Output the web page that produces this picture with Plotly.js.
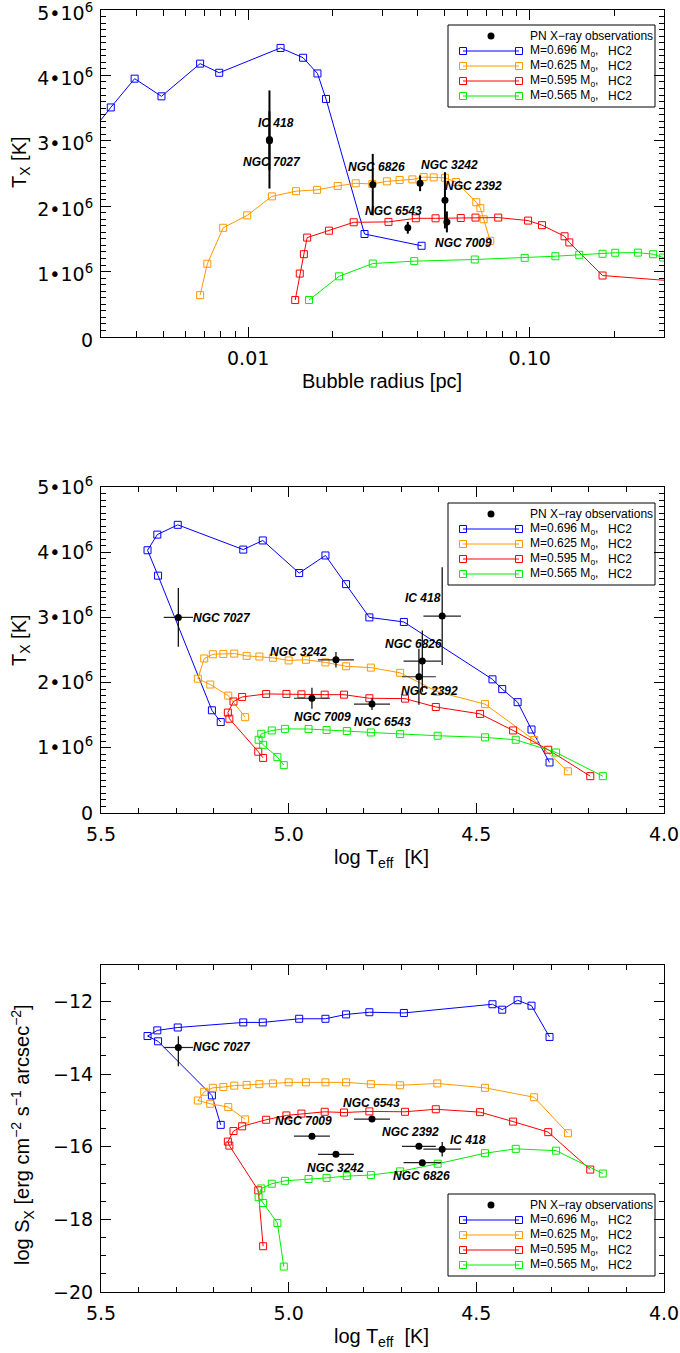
<!DOCTYPE html>
<html><head><meta charset="utf-8">
<script src="https://cdn.plot.ly/plotly-3.0.1.min.js"></script>
<style>body{margin:0;background:#fff}#chart{width:680px;height:1353px}</style>
</head><body><div id="chart"></div>
<script>
// ---------------- DATA ----------------
// Model sequences (time order). Tx in units of 10^6 K, radius in pc (null = outside the plotted range)
const m696_logTeff = [4.305, 4.353, 4.390, 4.431, 4.457, 4.693, 4.785, 4.847, 4.902, 4.972, 5.069, 5.121, 5.2955, 5.350, 5.376, 5.348, 5.2045, 5.181];
const m696_Tx      = [0.775, 1.28, 1.70, 1.90, 2.05, 2.93, 3.00, 3.51, 3.95, 3.68, 4.18, 4.04, 4.42, 4.27, 4.03, 3.64, 1.575, 1.395];
const m696_radius  = [null, null, null, null, null, null, 0.00262, 0.00325, 0.00395, 0.00492, 0.00675, 0.00789, 0.01303, 0.01567, 0.01762, 0.0189, 0.0259, 0.0413];
const m696_logSx   = [-12.98, -12.12, -11.97, -12.23, -12.08, -12.32, -12.30, -12.36, -12.48, -12.48, -12.58, -12.58, -12.72, -12.80, -12.955, -13.10, -14.59, -15.40];

const m625_logTeff = [4.256, 4.346, 4.477, 4.604, 4.703, 4.781, 4.847, 4.902, 4.954, 5.000, 5.042, 5.078, 5.112, 5.145, 5.174, 5.202, 5.225, 5.242, 5.209, 5.161, 5.116];
const m625_Tx      = [0.64, 1.12, 1.67, 1.86, 2.15, 2.23, 2.25, 2.31, 2.35, 2.34, 2.38, 2.40, 2.41, 2.445, 2.44, 2.435, 2.37, 2.06, 1.97, 1.80, 1.47];
const m625_radius  = [0.00675, 0.00716, 0.00815, 0.00992, 0.01214, 0.01479, 0.01757, 0.0208, 0.0241, 0.0276, 0.0311, 0.0345, 0.0383, 0.0420, 0.0456, 0.0500, 0.0548, 0.0646, 0.0668, 0.0686, 0.0724];
const m625_logSx   = [-15.63, -14.64, -14.38, -14.26, -14.31, -14.28, -14.23, -14.23, -14.23, -14.23, -14.26, -14.28, -14.30, -14.32, -14.36, -14.38, -14.49, -14.73, -14.82, -14.91, -15.25];

const m595_logTeff = [4.1965, 4.3085, 4.402, 4.490, 4.608, 4.690, 4.785, 4.8525, 4.904, 4.966, 5.006, 5.060, 5.124, 5.147, 5.162, 5.158, 5.081, 5.068];
const m595_Tx      = [0.565, 0.97, 1.266, 1.52, 1.626, 1.754, 1.76, 1.815, 1.815, 1.82, 1.826, 1.826, 1.78, 1.71, 1.54, 1.446, 0.94, 0.845];
const m595_radius  = [0.01469, 0.01525, 0.01577, 0.0162, 0.01936, 0.0237, 0.0315, 0.0394, 0.0463, 0.0569, 0.0642, 0.0773, 0.0987, 0.1106, 0.133, 0.1383, 0.1815, 0.35];
const m595_logSx   = [-16.63, -15.60, -15.31, -15.05, -14.97, -15.04, -15.03, -15.06, -15.04, -15.09, -15.14, -15.26, -15.44, -15.57, -15.86, -15.97, -17.20, -18.74];

const m565_logTeff = [4.163, 4.2875, 4.395, 4.477, 4.603, 4.703, 4.781, 4.845, 4.899, 4.947, 5.010, 5.045, 5.073, 5.080, 5.068, 5.030, 5.013];
const m565_Tx      = [0.565, 0.928, 1.123, 1.16, 1.185, 1.21, 1.235, 1.257, 1.272, 1.288, 1.29, 1.266, 1.215, 1.123, 1.046, 0.857, 0.734];
const m565_radius  = [0.01644, 0.02103, 0.0277, 0.0389, 0.0638, 0.0960, 0.1234, 0.150, 0.1815, 0.2014, 0.2422, 0.2746, 0.298, 0.33, null, null, null];
const m565_logSx   = [-16.74, -16.11, -16.06, -16.18, -16.47, -16.68, -16.78, -16.81, -16.86, -16.89, -16.94, -17.02, -17.15, -17.39, -17.55, -18.10, -19.30];

const modelMass   = ["0.696", "0.625", "0.595", "0.565"];
const modelColors = ["#0000ff", "#ff9900", "#ff0000", "#00f000"];

// Observations
const obsNames      = ["IC 418", "NGC 7027", "NGC 6826", "NGC 3242", "NGC 2392", "NGC 7009", "NGC 6543"];
const obsRadius     = [0.0119, 0.0119, 0.0277, 0.0408, 0.0500, 0.0508, 0.0369];
const obsTx         = [3.02, 3.00, 2.33, 2.35, 2.09, 1.76, 1.67];
const obsTxErr      = [0.75, 0.45, 0.47, 0.12, 0.43, 0.16, 0.09];
const obsLogTeff    = [4.591, 5.294, 4.644, 4.874, 4.653, 4.938, 4.778];
const obsLogTeffErr = [0.05, 0.039, 0.05, 0.048, 0.045, 0.048, 0.048];
const obsLogSx      = [-16.07, -13.27, -16.44, -16.21, -15.99, -15.71, -15.24];
const obsLogSxErrP  = [0.2, 0.31, 0, 0, 0, 0, 0];
const obsLogSxErrM  = [0.2, 0.52, 0, 0, 0, 0, 0];

// --------------- BUILD ---------------
const FONT = "Liberation Sans, Arial, Helvetica, sans-serif";
const WIDE = "DejaVu Sans, Verdana, sans-serif";
const MEGA = 1e6;
const models = [
  {logTeff: m696_logTeff, Tx: m696_Tx, radius: m696_radius, logSx: m696_logSx},
  {logTeff: m625_logTeff, Tx: m625_Tx, radius: m625_radius, logSx: m625_logSx},
  {logTeff: m595_logTeff, Tx: m595_Tx, radius: m595_radius, logSx: m595_logSx},
  {logTeff: m565_logTeff, Tx: m565_Tx, radius: m565_radius, logSx: m565_logSx}
];

const traces = [];
models.forEach((m, i) => {
  const style = {
    mode: "lines+markers", showlegend: false, hoverinfo: "skip",
    line: {color: modelColors[i], width: 1},
    marker: {symbol: "square-open", size: 7, color: modelColors[i], line: {width: 1, color: modelColors[i]}}
  };
  traces.push(Object.assign({x: m.radius, y: m.Tx.map(v => v * MEGA), xaxis: "x", yaxis: "y"}, style));
  traces.push(Object.assign({x: m.logTeff, y: m.Tx.map(v => v * MEGA), xaxis: "x2", yaxis: "y2"}, style));
  traces.push(Object.assign({x: m.logTeff, y: m.logSx, xaxis: "x3", yaxis: "y3"}, style));
});

const obsMarker = {symbol: "circle", size: 7, color: "#000"};
traces.push({
  x: obsRadius, y: obsTx.map(v => v * MEGA), xaxis: "x", yaxis: "y",
  mode: "markers", showlegend: false, marker: obsMarker,
  error_y: {type: "data", array: obsTxErr.map(v => v * MEGA), color: "#000", thickness: 2, width: 0}
});
traces.push({
  x: obsLogTeff, y: obsTx.map(v => v * MEGA), xaxis: "x2", yaxis: "y2",
  mode: "markers", showlegend: false, marker: obsMarker,
  error_x: {type: "data", array: obsLogTeffErr, color: "#222", thickness: 1.2, width: 0},
  error_y: {type: "data", array: obsTxErr.map(v => v * MEGA), color: "#000", thickness: 1.2, width: 0}
});
traces.push({
  x: obsLogTeff, y: obsLogSx, xaxis: "x3", yaxis: "y3",
  mode: "markers", showlegend: false, marker: obsMarker,
  error_x: {type: "data", array: obsLogTeffErr, color: "#222", thickness: 1.2, width: 0},
  error_y: {type: "data", symmetric: false, array: obsLogSxErrP, arrayminus: obsLogSxErrM, color: "#000", thickness: 1.2, width: 0}
});

// --------------- LAYOUT ---------------
const W = 680, H = 1353, ML = 101, MR = 16, MT = 10, MB = 61;
const pxX = px => (px - ML) / (W - ML - MR);
const pxY = py => (H - MB - py) / (H - MT - MB);

const baseAxis = {
  showline: true, linecolor: "#000", linewidth: 1, mirror: "ticks",
  ticks: "inside", ticklen: 10, tickwidth: 1, tickcolor: "#000",
  showgrid: false, zeroline: false, ticklabeloverflow: "allow",
  tickfont: {family: WIDE, size: 19, color: "#000"}
};
const txTickVals = [0, 1, 2, 3, 4, 5].map(v => v * MEGA);
const txTickText = ["0", "1•10<sup>6</sup>", "2•10<sup>6</sup>", "3•10<sup>6</sup>", "4•10<sup>6</sup>", "5•10<sup>6</sup>"];

const logMinor = [0.004, 0.005, 0.006, 0.007, 0.008, 0.009, 0.02, 0.03, 0.04, 0.05, 0.06, 0.07, 0.08, 0.09, 0.2, 0.3];

const layout = {
  width: W, height: H,
  margin: {l: ML, r: MR, t: MT, b: MB},
  paper_bgcolor: "#fff", plot_bgcolor: "#fff",
  font: {family: FONT, color: "#000"},
  showlegend: false,
  xaxis: Object.assign({}, baseAxis, {
    domain: [0, 1], anchor: "y", type: "log",
    range: [Math.log10(0.003), Math.log10(0.3)],
    tickmode: "array", tickvals: [0.01, 0.1], ticktext: ["0.01", "0.10"],
    ticklabelstandoff: 4,
    minor: {tickmode: "array", tickvals: logMinor, ticks: "inside", ticklen: 6, tickcolor: "#000", showgrid: false}
  }),
  yaxis: Object.assign({}, baseAxis, {
    domain: [pxY(337), pxY(10)], anchor: "x", range: [0, 5 * MEGA],
    tickmode: "array", tickvals: txTickVals, ticktext: txTickText, ticklabelstandoff: 3, ticklabelshift: 3,
    minor: {tickmode: "linear", tick0: 0, dtick: 0.1 * MEGA, ticks: "inside", ticklen: 5, tickcolor: "#000", showgrid: false}
  }),
  xaxis2: Object.assign({}, baseAxis, {
    domain: [0, 1], anchor: "y2", range: [5.5, 4.0],
    tickmode: "array", tickvals: [5.5, 5.0, 4.5, 4.0], ticktext: ["5.5", "5.0", "4.5", "4.0"],
    ticklabelstandoff: 4,
    minor: {tickmode: "linear", tick0: 4.0, dtick: 0.1, ticks: "inside", ticklen: 5, tickcolor: "#000", showgrid: false}
  }),
  yaxis2: Object.assign({}, baseAxis, {
    domain: [pxY(813), pxY(487)], anchor: "x2", range: [0, 5 * MEGA],
    tickmode: "array", tickvals: txTickVals, ticktext: txTickText, ticklabelstandoff: 3,
    minor: {tickmode: "linear", tick0: 0, dtick: 0.1 * MEGA, ticks: "inside", ticklen: 5, tickcolor: "#000", showgrid: false}
  }),
  xaxis3: Object.assign({}, baseAxis, {
    domain: [0, 1], anchor: "y3", range: [5.5, 4.0],
    tickmode: "array", tickvals: [5.5, 5.0, 4.5, 4.0], ticktext: ["5.5", "5.0", "4.5", "4.0"],
    ticklabelstandoff: 4,
    minor: {tickmode: "linear", tick0: 4.0, dtick: 0.1, ticks: "inside", ticklen: 5, tickcolor: "#000", showgrid: false}
  }),
  yaxis3: Object.assign({}, baseAxis, {
    domain: [pxY(1292), pxY(965)], anchor: "x3", range: [-20, -11],
    tickmode: "array", tickvals: [-20, -18, -16, -14, -12], ticklabelstandoff: 3,
    minor: {tickmode: "linear", tick0: -20, dtick: 0.5, ticks: "inside", ticklen: 5, tickcolor: "#000", showgrid: false}
  }),
  shapes: [],
  annotations: []
};

// Object labels
const labFont = {family: FONT, size: 12, color: "#000"};
function lab(text, x, y, xr, yr, anchor) {
  layout.annotations.push({text: "<b><i>" + text + "</i></b>", x: x, y: y, xref: xr, yref: yr,
    showarrow: false, xanchor: anchor || "center", yanchor: "middle", font: labFont});
}
// top panel (x = log10 radius)
lab("IC 418",   -1.902, 3.277 * MEGA, "x", "y");
lab("NGC 7027", -1.916, 2.68 * MEGA,  "x", "y");
lab("NGC 6826", -1.545, 2.604 * MEGA, "x", "y");
lab("NGC 3242", -1.285, 2.63 * MEGA,  "x", "y");
lab("NGC 2392", -1.200, 2.313 * MEGA, "x", "y");
lab("NGC 6543", -1.483, 1.927 * MEGA, "x", "y");
lab("NGC 7009", -1.235, 1.442 * MEGA, "x", "y");
// middle panel
lab("NGC 7027", 5.261, 2.995 * MEGA, "x2", "y2", "left");
lab("NGC 3242", 4.975, 2.47 * MEGA,  "x2", "y2");
lab("NGC 7009", 4.911, 1.48 * MEGA,  "x2", "y2");
lab("NGC 6543", 4.749, 1.40 * MEGA,  "x2", "y2");
lab("NGC 2392", 4.624, 1.866 * MEGA, "x2", "y2");
lab("NGC 6826", 4.667, 2.585 * MEGA, "x2", "y2");
lab("IC 418",   4.642, 3.29 * MEGA,  "x2", "y2");
// bottom panel
lab("NGC 7027", 5.261, -13.27, "x3", "y3", "left");
lab("NGC 7009", 4.960, -15.29, "x3", "y3");
lab("NGC 3242", 4.876, -16.59, "x3", "y3");
lab("NGC 6543", 4.779, -14.80, "x3", "y3");
lab("NGC 2392", 4.675, -15.60, "x3", "y3");
lab("IC 418",   4.523, -15.82, "x3", "y3");
lab("NGC 6826", 4.646, -16.81, "x3", "y3");

// Axis titles
const titleFont = {family: FONT, size: 20, color: "#000"};
function ttl(text, px, py, angle) {
  layout.annotations.push({text: text, x: pxX(px), y: pxY(py), xref: "paper", yref: "paper",
    showarrow: false, xanchor: "center", yanchor: "middle", textangle: angle || 0, font: titleFont});
}
ttl("Bubble radius [pc]", 382, 381);
ttl("log T<sub>eff</sub>  [K]", 381, 859);
ttl("log T<sub>eff</sub>  [K]", 381, 1337);
ttl("T<sub>X</sub> [K]", 20, 162, -90);
ttl("T<sub>X</sub> [K]", 20, 640, -90);
ttl("log S<sub>X</sub> [erg cm<sup>−2</sup> s<sup>−1</sup> arcsec<sup>−2</sup>]", 22, 1135, -90);

// Custom legends (IDL style: square at both ends of the line)
function legendBox(top) {
  const rows = [11, 26, 41, 56, 71].map(d => top + d);
  const lf = {family: FONT, size: 12, color: "#000"};
  layout.shapes.push({type: "rect", xref: "paper", yref: "paper",
    x0: pxX(448), x1: pxX(655), y0: pxY(top + 82), y1: pxY(top), line: {color: "#000", width: 1}});
  layout.shapes.push({type: "circle", xref: "paper", yref: "paper",
    x0: pxX(487.5), x1: pxX(494.5), y0: pxY(rows[0] + 3.5), y1: pxY(rows[0] - 3.5),
    fillcolor: "#000", line: {color: "#000", width: 0}});
  layout.annotations.push({text: "PN X−ray observations", x: pxX(528), y: pxY(rows[0]), xref: "paper", yref: "paper",
    showarrow: false, xanchor: "left", yanchor: "middle", font: lf});
  modelMass.forEach((mass, i) => {
    const y = rows[i + 1], c = modelColors[i];
    layout.shapes.push({type: "line", xref: "paper", yref: "paper",
      x0: pxX(463), x1: pxX(519), y0: pxY(y), y1: pxY(y), line: {color: c, width: 1}});
    [463, 519].forEach(cx => layout.shapes.push({type: "rect", xref: "paper", yref: "paper",
      x0: pxX(cx - 3.5), x1: pxX(cx + 3.5), y0: pxY(y + 3.5), y1: pxY(y - 3.5), line: {color: c, width: 1}}));
    layout.annotations.push({text: "M=" + mass + " M<sub>o</sub>,", x: pxX(528), y: pxY(y), xref: "paper", yref: "paper",
      showarrow: false, xanchor: "left", yanchor: "middle", font: lf});
    layout.annotations.push({text: "HC2", x: pxX(606), y: pxY(y), xref: "paper", yref: "paper",
      showarrow: false, xanchor: "left", yanchor: "middle", font: lf});
  });
}
legendBox(25);
legendBox(503);
legendBox(1194);

Plotly.newPlot("chart", traces, layout, {staticPlot: true, displayModeBar: false});
</script>
</body></html>
